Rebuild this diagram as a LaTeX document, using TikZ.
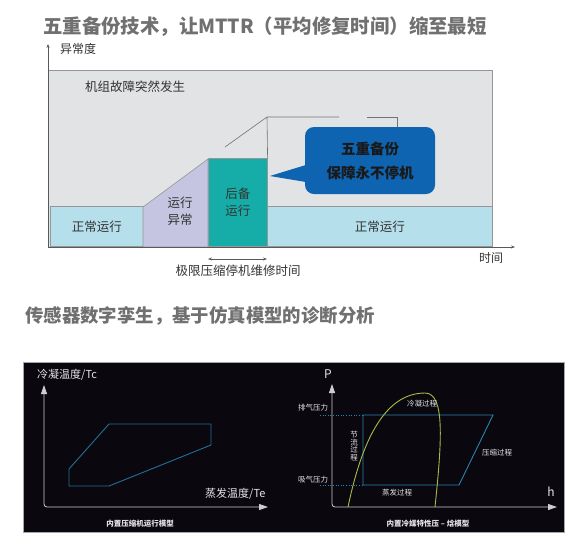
\documentclass[tikz,border=0pt]{standalone}
\usepackage{fontspec}
\setmainfont{Noto Sans CJK SC}
\usetikzlibrary{positioning,arrows.meta,calc}
\definecolor{cTitle}{RGB}{112,112,112}
\definecolor{cPanel}{RGB}{226,227,229}
\definecolor{cPanelLine}{RGB}{150,150,152}
\definecolor{cNormal}{RGB}{182,223,236}
\definecolor{cAbnormal}{RGB}{197,197,225}
\definecolor{cBackup}{RGB}{22,172,168}
\definecolor{cBubble}{RGB}{14,100,176}
\definecolor{cScreen}{RGB}{10,8,14}
\definecolor{eAxis}{RGB}{205,205,210}
\definecolor{eEnvelope}{RGB}{32,112,152}
\definecolor{eCycle}{RGB}{40,132,176}
\definecolor{eDome}{RGB}{168,188,72}
\definecolor{tLight}{RGB}{228,228,232}
\tikzset{
  title/.style  ={font=\bfseries\fontsize{19.4}{19.4}\selectfont,text=cTitle,anchor=west,inner sep=0pt},
  lbl/.style    ={font=\fontsize{12.5}{17}\selectfont,text=black!80,inner sep=0pt,align=center},
  band/.style   ={draw=cPanelLine,line width=0.6pt,anchor=south west,inner sep=0pt,
                  font=\fontsize{12.5}{17}\selectfont,text=black!80,align=center},
  bubble/.style ={fill=cBubble,rounded corners=9pt,minimum width=130pt,minimum height=67pt,
                  font=\bfseries\fontsize{14.5}{24}\selectfont,text=black!90,align=center},
  axis/.style   ={-{Stealth[length=4pt,width=3pt]},draw=black!65,line width=0.6pt},
  guide/.style  ={draw=black!55,line width=0.6pt},
  scrAxis/.style={{Triangle[length=9pt,width=6pt]}-{Triangle[length=9pt,width=6pt]},
                  draw=eAxis,line width=0.8pt,rounded corners=3pt},
  scr/.style    ={text=tLight,inner sep=0pt,font=\fontsize{7.5}{7.5}\selectfont},
  scrBig/.style ={text=tLight,inner sep=0pt,font=\fontsize{11}{11}\selectfont,anchor=west},
}
\begin{document}
\begin{tikzpicture}[x=1pt,y=-1pt]
\useasboundingbox (0,0) rectangle (585,547);

\node[title] (t1) at (43,27) {五重备份技术，让MTTR（平均修复时间）缩至最短};

% fault panel
\node[draw=cPanelLine,fill=cPanel,line width=0.6pt,minimum width=444pt,minimum height=177pt,
      anchor=north west,inner sep=0pt] (panel) at (48,70) {};
\node[lbl,anchor=west] (fault) at (85,87) {机组故障突然发生};

\node[band,fill=cNormal,minimum width=93pt,minimum height=40pt] (normL) at (50,247) {正常运行};
\coordinate (abA) at (143,207);
\coordinate (abB) at (208,159);
\filldraw[fill=cAbnormal,draw=cPanelLine,line width=0.6pt] (143,247) -- (abA) -- (abB) -- (208,247) -- cycle;
\node[lbl] (abn) at (180,211) {运行\\异常};
\node[band,fill=cBackup,minimum width=59pt,minimum height=88pt] (backup) at (208,247) {后备\\运行};
\node[band,fill=cNormal,minimum width=225pt,minimum height=40pt] (normR) at (267,247) {正常运行};

\coordinate (s1) at (225,147);
\coordinate (s2) at (267,117);
\coordinate (s3) at (339,117);
\coordinate (s4) at (367,117);
\coordinate (s5) at (397,117);
\coordinate (s6) at (397,127);
\draw[guide] (s1) -- (s2) -- (s3);
\draw[guide] (s2) -- (backup.north east);
\draw[guide] (s4) -- (s5) -- (s6);

\node[bubble] (bub) at (370,160.5) {五重备份\\保障永不停机};
\coordinate (tip) at (270,176);
\fill[cBubble] ($(bub.west)+(1,4.5)$) -- (tip) -- ($(bub.west)+(1,21.5)$) -- cycle;

% axes
\coordinate (o) at (48,247);
\coordinate (yTip) at (48,44);
\coordinate (xTip) at (515,247);
\draw[axis] (o) -- (yTip);
\draw[axis] (o) -- (xTip);
\node[lbl,anchor=west,font=\fontsize{12}{12}\selectfont] (ylab) at (60,49) {异常度};
\node[lbl,font=\fontsize{12}{12}\selectfont] (xlab) at (491,258) {时间};

\coordinate (dA) at (208,259);
\coordinate (dB) at (267,259);
\draw[{Stealth[length=4pt,width=3pt]}-{Stealth[length=4pt,width=3pt]},draw=black!65,line width=0.6pt] (dA) -- (dB);
\node[lbl] (mttr) at (238,271) {极限压缩停机维修时间};

\node[title,font=\bfseries\fontsize{18.4}{18.4}\selectfont] (t2) at (25,316) {传感器数字孪生，基于仿真模型的诊断分析};

% screen
\node[fill=cScreen,draw=black!35,line width=0.5pt,minimum width=541pt,minimum height=170pt,
      anchor=north west,inner sep=0pt] (screen) at (23,362) {};

% operating envelope
\coordinate (lY) at (44,385);
\coordinate (lX) at (268,507);
\draw[scrAxis] (lY) |- (lX);
\node[scrBig] (tc) at (37,375) {冷凝温度/Tc};
\node[scrBig] (te) at (205,494) {蒸发温度/Te};
\draw[eEnvelope,line width=0.9pt] (69,469) -- (69,486) -- (109,486) -- (211,445)
  -- (211,424) -- (109,424) -- cycle;
\node[scr,font=\bfseries\fontsize{7.5}{7.5}\selectfont] (cap1) at (140,524) {内置压缩机运行模型};

% p-h diagram
\coordinate (rY) at (332,384);
\coordinate (rX) at (557,507);
\draw[scrAxis] (rY) |- (rX);
\node[scr,font=\fontsize{12}{12}\selectfont] (p) at (328,374) {P};
\node[scr,font=\fontsize{12}{12}\selectfont] (h) at (551,492) {h};
\coordinate (pHi) at (363,415);
\coordinate (pLo) at (363,485);
\draw[eCycle,line width=0.6pt,dotted] (320,415) -- (pHi);
\draw[eCycle,line width=0.6pt,dotted] (320,485) -- (pLo);
\draw[eCycle,line width=0.9pt] (pHi) -- (493,415) -- (459,485) -- (pLo) -- cycle;
\draw[eDome,line width=0.9pt] (348,507) .. controls (362,440) and (385,393) .. (425,393)
  .. controls (445,393) and (442,440) .. (435,507);
\node[scr] (hiP) at (313,408) {排气压力};
\node[scr] (loP) at (313,480) {吸气压力};
\node[scr] (cond) at (422,404) {冷凝过程};
\node[scr,align=center] (thr) at (354,446) {节\\流\\过\\程};
\node[scr] (comp) at (497,453) {压缩过程};
\node[scr] (evap) at (397,493) {蒸发过程};
\node[scr,font=\bfseries\fontsize{7.5}{7.5}\selectfont] (cap2) at (428,524) {内置冷媒特性压 – 焓模型};

\end{tikzpicture}
\end{document}
